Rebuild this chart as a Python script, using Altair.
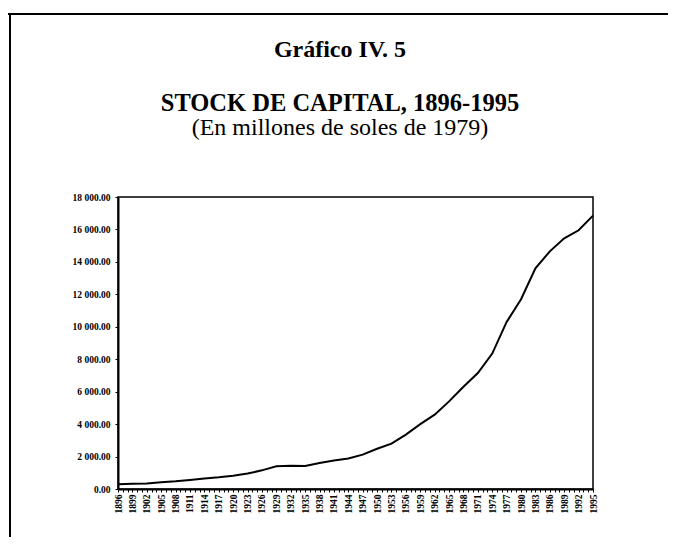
import altair as alt
import pandas as pd

years = [1896, 1899, 1902, 1905, 1908, 1911, 1914, 1917, 1920, 1923, 1926, 1929,
         1932, 1935, 1938, 1941, 1944, 1947, 1950, 1953, 1956, 1959, 1962, 1965,
         1968, 1971, 1974, 1977, 1980, 1983, 1986, 1989, 1992, 1995]
stock = [300, 320, 340, 420, 480, 560, 640, 720, 820, 950, 1150, 1400,
         1430, 1420, 1600, 1760, 1880, 2120, 2480, 2800, 3350, 4000, 4580, 5400,
         6300, 7150, 8350, 10300, 11700, 13600, 14650, 15450, 15950, 16850]
y_ticks = [0, 2000, 4000, 6000, 8000, 10000, 12000, 14000, 16000, 18000]
all_years = list(range(1896, 1996))

title1 = "Gráfico IV. 5"
title2 = "STOCK DE CAPITAL, 1896-1995"
title3 = "(En millones de soles de 1979)"

W, H = 475, 292
FONT = "Liberation Serif"

df = pd.DataFrame({"year": years, "stock": stock})

line = alt.Chart(df).mark_line(color="black", strokeWidth=2).encode(
    x=alt.X("year:Q",
            scale=alt.Scale(domain=[1896, 1995], nice=False, zero=False),
            axis=alt.Axis(values=all_years, title=None, grid=False,
                          labelExpr="(datum.value - 1896) % 3 == 0 ? datum.value : ''",
                          labelAngle=-90, labelFont=FONT, labelFontSize=9.5,
                          labelFontWeight="bold", labelColor="black",
                          tickSize=3, tickColor="black", domainColor="black",
                          domainWidth=2, labelPadding=2, labelOverlap=False,
                          labelFlush=False)),
    y=alt.Y("stock:Q",
            scale=alt.Scale(domain=[0, 18000], nice=False),
            axis=alt.Axis(values=y_ticks, title=None, grid=False,
                          labelExpr="replace(format(datum.value, ',.2f'), ',', ' ')",
                          labelFont=FONT, labelFontSize=9.5, labelFontWeight="bold",
                          labelColor="black", tickSize=3, tickColor="black",
                          domainColor="black", domainWidth=2, labelPadding=5)),
)

def text_layer(t, xpos, ypos, size, weight):
    return alt.Chart(pd.DataFrame({"t": [t]})).mark_text(
        font=FONT, fontSize=size, fontWeight=weight, color="black",
        align="center", baseline="middle").encode(
        text="t:N", x=alt.value(xpos), y=alt.value(ypos))

cx = 340 - 118
t1 = text_layer(title1, cx, 50 - 197, 24, "bold")
t2 = text_layer(title2, cx, 104 - 197, 24.5, "bold")
t3 = text_layer(title3, cx, 128 - 197, 24, "normal")

frame_df = pd.DataFrame({"a": [0]})
top_rule = alt.Chart(frame_df).mark_rule(color="black", strokeWidth=2).encode(
    x=alt.value(-110), x2=alt.value(560), y=alt.value(-183))
left_rule = alt.Chart(frame_df).mark_rule(color="black", strokeWidth=2).encode(
    x=alt.value(-108), y=alt.value(-183), y2=alt.value(340))

chart = alt.layer(line, t1, t2, t3, top_rule, left_rule).properties(
    width=W, height=H,
    autosize=alt.AutoSizeParams(type="none"),
    padding={"left": 110, "top": 189, "right": 75, "bottom": 50},
    background="white",
).configure_view(stroke="black", strokeWidth=1.5)

chart.save("out.html", embed_options={"renderer": "svg", "actions": False})
